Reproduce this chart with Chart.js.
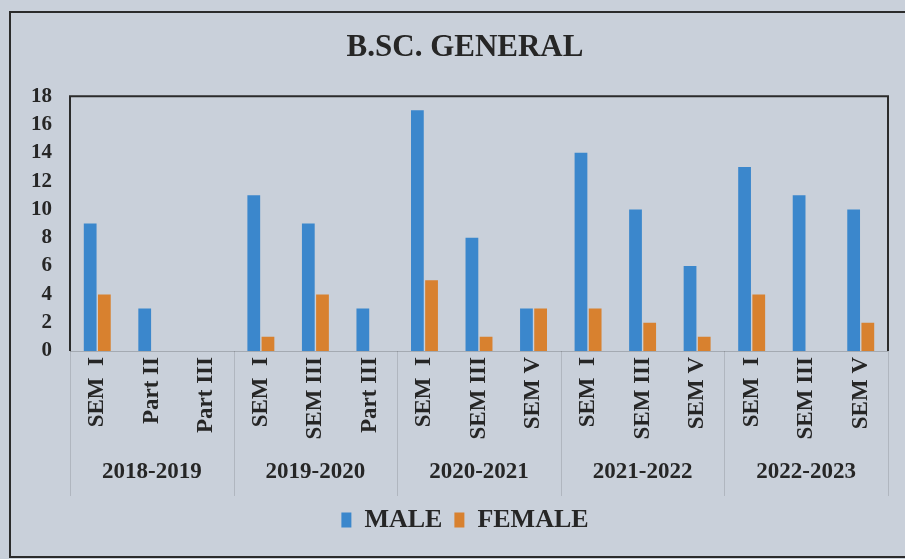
<!DOCTYPE html>
<html>
<head>
<meta charset="utf-8">
<script src="https://cdn.jsdelivr.net/npm/chart.js@4.4.1/dist/chart.umd.min.js"></script>
<style>
html,body{margin:0;padding:0;background:#c9d0da;}
#wrap{width:905px;height:559px;position:relative;}
</style>
</head>
<body>
<div id="wrap"><canvas id="c" width="905" height="559"></canvas></div>
<script>
const chartTitle = 'B.SC. GENERAL';
const categories = ['SEM  I','Part II','Part III','SEM  I','SEM III','Part III','SEM  I','SEM III','SEM V','SEM  I','SEM III','SEM V','SEM  I','SEM III','SEM V'];
const years = ['2018-2019','2019-2020','2020-2021','2021-2022','2022-2023'];
const groupSize = 3;
const male = [9,3,0,11,9,3,17,8,3,14,10,6,13,11,10];
const female = [4,0,0,1,4,0,5,1,3,3,2,1,4,0,2];
const yMax = 18;
const yStep = 2;

const BG = '#c9d0da';
const INK = '#262626';
const SERIF = "'Liberation Serif', 'Times New Roman', serif";

const framePlugin = {
  id: 'frame',
  beforeDraw(chart) {
    const ctx = chart.ctx;
    ctx.save();
    ctx.fillStyle = BG;
    ctx.fillRect(0, 0, chart.width, chart.height);
    ctx.strokeStyle = '#2b2b2b';
    ctx.lineWidth = 2;
    ctx.strokeRect(10, 12, chart.width + 10, 545);
    ctx.restore();
  },
  afterDraw(chart) {
    const ctx = chart.ctx;
    const a = chart.chartArea;
    const x = chart.scales.x;
    ctx.save();
    ctx.strokeStyle = '#2b2b2b';
    ctx.lineWidth = 2;
    ctx.beginPath();
    ctx.moveTo(a.left, a.bottom);
    ctx.lineTo(a.left, a.top);
    ctx.lineTo(a.right, a.top);
    ctx.lineTo(a.right, a.bottom);
    ctx.stroke();
    ctx.strokeStyle = 'rgba(0,0,0,0.18)';
    ctx.lineWidth = 1;
    ctx.beginPath();
    ctx.moveTo(a.left, a.bottom + 0.5);
    ctx.lineTo(a.right, a.bottom + 0.5);
    ctx.stroke();
    const sepBottom = a.bottom + 145;
    ctx.strokeStyle = 'rgba(0,0,0,0.12)';
    for (let g = 0; g <= years.length; g++) {
      let px;
      if (g === 0) px = a.left;
      else if (g === years.length) px = a.right;
      else px = (x.getPixelForTick(g * groupSize - 1) + x.getPixelForTick(g * groupSize)) / 2;
      ctx.beginPath();
      ctx.moveTo(Math.round(px) + 0.5, a.bottom);
      ctx.lineTo(Math.round(px) + 0.5, sepBottom);
      ctx.stroke();
    }
    ctx.fillStyle = INK;
    ctx.font = 'bold 23px ' + SERIF;
    ctx.textAlign = 'center';
    ctx.textBaseline = 'middle';
    years.forEach((yr, g) => {
      const first = x.getPixelForTick(g * groupSize);
      const last = x.getPixelForTick(g * groupSize + groupSize - 1);
      ctx.fillText(yr, (first + last) / 2, a.bottom + 121);
    });
    ctx.restore();
  }
};

new Chart(document.getElementById('c'), {
  type: 'bar',
  data: {
    labels: categories,
    datasets: [
      { label: 'MALE', data: male, backgroundColor: '#3b87cc', borderWidth: 0, barPercentage: 0.9, categoryPercentage: 0.52 },
      { label: 'FEMALE', data: female, backgroundColor: '#d8812f', borderWidth: 0, barPercentage: 0.9, categoryPercentage: 0.52 }
    ]
  },
  options: {
    responsive: false,
    animation: false,
    layout: { padding: { left: 25, right: 0, top: 0, bottom: 16 } },
    plugins: {
      title: {
        display: true,
        text: chartTitle,
        color: INK,
        font: { family: SERIF, size: 31, weight: 'bold' },
        padding: { top: 29, bottom: 30 }
      },
      legend: {
        display: true,
        position: 'bottom',
        labels: {
          color: INK,
          font: { family: SERIF, size: 26, weight: 'bold' },
          boxWidth: 10,
          boxHeight: 15,
          padding: 12
        }
      },
      tooltip: { enabled: false }
    },
    scales: {
      x: {
        grid: { display: false, drawTicks: false },
        border: { display: false },
        ticks: {
          color: INK,
          font: { family: SERIF, size: 23, weight: 'bold' },
          maxRotation: 90,
          minRotation: 90,
          autoSkip: false,
          padding: 6
        },
        afterFit(s) { s.height = 144; }
      },
      y: {
        min: 0,
        max: yMax,
        grid: { display: false, drawTicks: false },
        border: { display: false },
        ticks: {
          stepSize: yStep,
          color: INK,
          font: { family: SERIF, size: 21, weight: 'bold' },
          padding: 18
        },
        afterFit(s) { s.width = 45; }
      },
      yR: {
        position: 'right',
        display: true,
        grid: { display: false, drawTicks: false },
        border: { display: false },
        ticks: { display: false },
        afterFit(s) { s.width = 17; }
      }
    }
  },
  plugins: [framePlugin]
});
</script>
</body>
</html>
